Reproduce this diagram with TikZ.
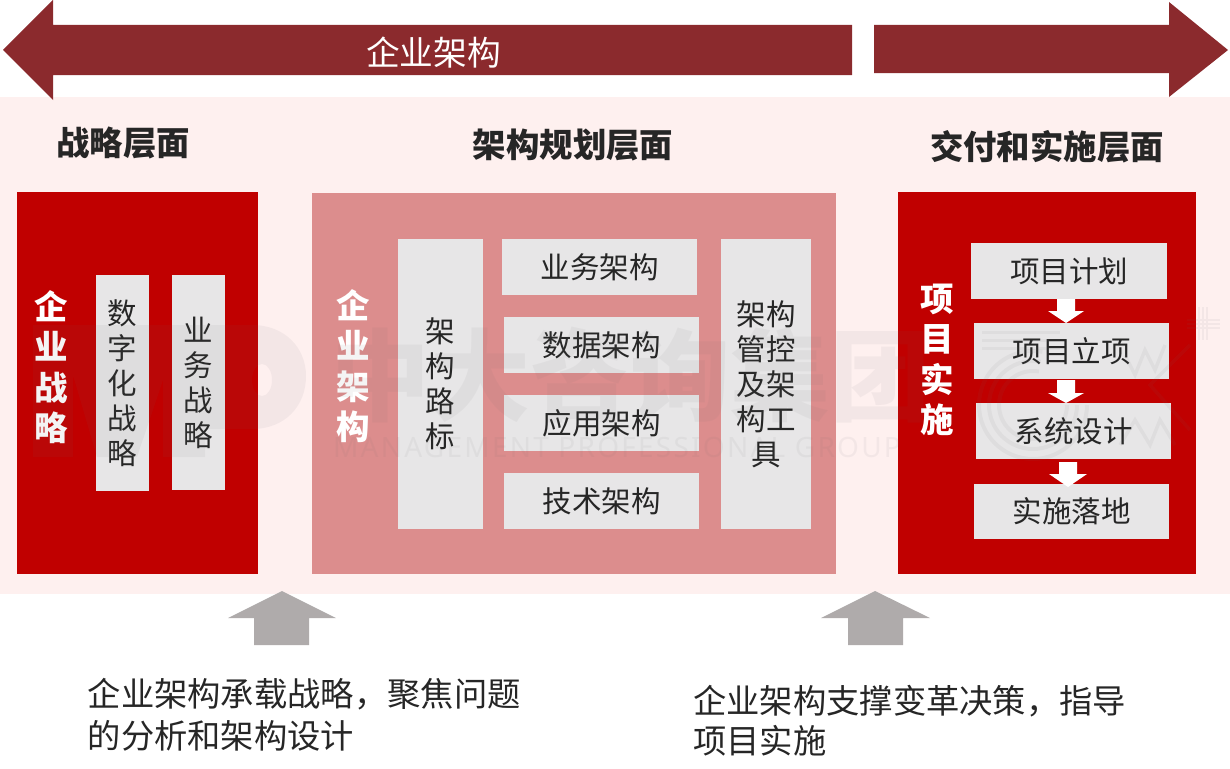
\documentclass[tikz,border=0pt]{standalone}
\usepackage{fontspec}
\setmainfont{Noto Sans CJK SC}
\newfontfamily\wmlatin[LetterSpace=8]{Noto Sans}
\definecolor{bgpink}{HTML}{FEF0EF}
\definecolor{arrowred}{HTML}{8B2A2D}
\definecolor{deepred}{HTML}{C00000}
\definecolor{midpink}{HTML}{DC8D8D}
\definecolor{cellgrey}{HTML}{E7E6E7}
\definecolor{inkgrey}{HTML}{262626}
\definecolor{pointgrey}{HTML}{AFABAB}
\definecolor{wmgrey}{HTML}{707070}
\newcommand{\fs}[2]{\fontsize{#1}{#2}\selectfont}
\tikzset{
  panel/.style={fill=#1,draw=none,inner sep=0pt,outer sep=0pt},
  cell/.style={fill=cellgrey,draw=none,inner sep=0pt,outer sep=0pt,text=inkgrey,align=center,font=\fs{29.5}{35}},
  headline/.style={inner sep=0pt,text=inkgrey,font=\fs{33.4}{38}\bfseries},
  sidetitle/.style={inner sep=0pt,text=white,align=center,font=\fs{33.5}{40.5}\bfseries},
  note/.style={inner sep=0pt,anchor=west,text=inkgrey,font=\fs{33.3}{40}},
  wm/.style={inner sep=0pt,text=wmgrey,text opacity=.07},
  wmline/.style={draw=wmgrey,draw opacity=.07},
  wmfill/.style={fill=wmgrey,fill opacity=.07,even odd rule}
}
\newcommand{\rectnode}[6]{%
  \pgfmathsetmacro{\cxx}{(#2+#4)/2}\pgfmathsetmacro{\cyy}{(#3+#5)/2}%
  \pgfmathsetmacro{\wdd}{#4-#2}\pgfmathsetmacro{\htt}{#5-#3}%
  \node[#1,minimum width=\wdd pt,minimum height=\htt pt] (#6) at (\cxx,\cyy)}
\begin{document}
\begin{tikzpicture}[x=1pt,y=-1pt]
\useasboundingbox (0,0) rectangle (1230,768);
% background band
\rectnode{panel=bgpink}{0}{97}{1230}{594}{band} {};
% top arrows
\fill[arrowred] (3,50) -- (53,0) -- (53,25) -- (852,25) -- (852,75) -- (53,75) -- (53,100) -- cycle;
\fill[arrowred] (874,25) -- (1169,25) -- (1169,2) -- (1228,50) -- (1169,97) -- (1169,73) -- (874,73) -- cycle;
\node[inner sep=0pt,text=white,font=\fs{33.7}{38}] (toplabel) at (433.5,53) {企业架构};
% headings
\node[headline] (h1) at (123,143) {战略层面};
\node[headline] (h2) at (573,145) {架构规划层面};
\node[headline] (h3) at (1047,147) {交付和实施层面};
% panels
\rectnode{panel=deepred}{17}{192}{258}{574}{leftpanel} {};
\rectnode{panel=midpink}{312}{193}{836}{574}{midpanel} {};
\rectnode{panel=deepred}{898}{192}{1196}{574}{rightpanel} {};
% left
\node[sidetitle] (t1) at (51,367) {企\\业\\战\\略};
\rectnode{cell}{96}{275}{149}{491}{c1} {数\\字\\化\\战\\略};
\rectnode{cell}{172}{275}{225}{490}{c2} {业\\务\\战\\略};
% middle
\node[sidetitle] (t2) at (353,366) {企\\业\\架\\构};
\rectnode{cell}{398}{239}{483}{529}{c3} {架\\构\\路\\标};
\rectnode{cell}{502}{239}{697}{295}{c4} {业务架构};
\rectnode{cell}{504}{317}{699}{373}{c5} {数据架构};
\rectnode{cell}{504}{395}{699}{451}{c6} {应用架构};
\rectnode{cell}{504}{473}{699}{529}{c7} {技术架构};
\rectnode{cell}{721}{239}{811}{529}{c8} {架构\\管控\\及架\\构工\\具};
% right
\node[sidetitle] (t3) at (937,360) {项\\目\\实\\施};
\rectnode{cell}{971}{243}{1167}{299}{r1} {项目计划};
\rectnode{cell}{974}{323}{1169}{379}{r2} {项目立项};
\rectnode{cell}{976}{403}{1171}{459}{r3} {系统设计};
\rectnode{cell}{974}{484}{1169}{539}{r4} {实施落地};
% small white arrows
\fill[white] (1057,299) -- (1075,299) -- (1075,311) -- (1084,311) -- (1066,323) -- (1048,311) -- (1057,311) -- cycle;
\fill[white] (1057,380) -- (1075,380) -- (1075,393) -- (1084,393) -- (1066,403) -- (1048,393) -- (1057,393) -- cycle;
\fill[white] (1059,462) -- (1077,462) -- (1077,474) -- (1087,474) -- (1068,487) -- (1049,474) -- (1059,474) -- cycle;
% grey up arrows
\fill[pointgrey] (282,591) -- (336,618) -- (309,618) -- (309,645) -- (254,645) -- (254,618) -- (228,618) -- cycle;
\fill[pointgrey] (875,591) -- (930,618) -- (903,618) -- (903,645) -- (848,645) -- (848,618) -- (821,618) -- cycle;
% notes
\node[note] (n1) at (87.5,694) {企业架构承载战略，聚焦问题};
\node[note] (n2) at (87.5,736) {的分析和架构设计};
\node[note] (n3) at (693,701) {企业架构支撑变革决策，指导};
\node[note] (n4) at (693,741) {项目实施};
% watermark
\node[wm,font=\fs{100}{110}\bfseries] (wm1) at (630,375) {中大咨询集团};
\node[wm,font=\wmlatin\fs{28}{30}] (wm2) at (617,447) {MANAGEMENT PROFESSIONAL GROUP};
\path[wmfill] (33,325) -- (252,325) .. controls (285,325) and (306,348) .. (306,376) .. controls (306,406) and (285,429) .. (252,429) -- (205,429) -- (205,457) -- (163,457) -- (163,380) -- (137,457) -- (97,457) -- (73,375) -- (73,457) -- (33,457) -- cycle
  (262,380) ellipse [x radius=10pt,y radius=16pt];
\draw[wmline,line width=4pt] (1087,405) arc (0:280:54);
\draw[wmline,line width=4pt] (1077,405) arc (0:280:44);
\draw[wmline,line width=4pt] (1067,405) arc (0:280:34);
\draw[wmline,line width=3pt] (982,332) -- (1060,332) (982,340) -- (1060,340) (982,348) -- (1060,348);
\draw[wmline,line width=3.5pt] (1125,355) -- (1135,375) -- (1145,350) -- (1155,370) -- (1165,345) (1190,345) -- (1150,385) -- (1190,430) (1120,445) -- (1135,420) -- (1150,445) -- (1160,420) -- (1175,445);
\draw[wmline,line width=2.5pt] (1187,320) -- (1220,320) (1187,324) -- (1220,324) (1187,328) -- (1220,328) (1199,307) -- (1199,340) (1203,307) -- (1203,340) (1207,307) -- (1207,340);
\end{tikzpicture}
\end{document}
